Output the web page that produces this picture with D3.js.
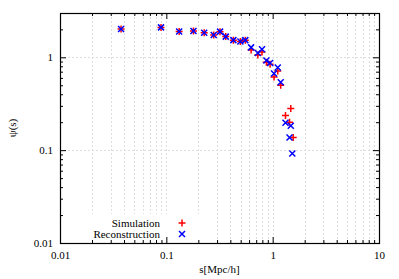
<!DOCTYPE html>
<html>
<head>
<meta charset="utf-8">
<script src="https://cdn.jsdelivr.net/npm/d3@7"></script>
<style>
  body { margin: 0; background: #fff; }
  text { font-family: "Liberation Serif", "DejaVu Serif", serif; font-size: 11px; fill: #000; }
</style>
</head>
<body>
<div id="chart"></div>
<script>
// data
var simS   = [0.0375, 0.0891, 0.132, 0.180, 0.227, 0.279, 0.320, 0.362, 0.427, 0.497, 0.553, 0.627, 0.725, 0.794, 0.873, 0.946, 1.03, 1.117, 1.19, 1.32, 1.44, 1.48, 1.56];
var simPsi = [2.02, 2.10, 1.90, 1.92, 1.84, 1.74, 1.89, 1.67, 1.53, 1.48, 1.53, 1.20, 1.06, 1.14, 0.884, 0.841, 0.614, 0.712, 0.500, 0.236, 0.200, 0.281, 0.137];
var recS   = [0.0375, 0.0891, 0.132, 0.180, 0.227, 0.279, 0.320, 0.362, 0.427, 0.497, 0.553, 0.627, 0.725, 0.794, 0.873, 0.946, 1.03, 1.117, 1.19, 1.32, 1.44, 1.48, 1.53];
var recPsi = [2.02, 2.10, 1.90, 1.92, 1.84, 1.74, 1.89, 1.67, 1.53, 1.48, 1.53, 1.28, 1.11, 1.22, 0.922, 0.868, 0.668, 0.775, 0.539, 0.197, 0.137, 0.183, 0.092];

var xMajor = [0.01, 0.1, 1, 10];
var yMajor = [0.01, 0.1, 1];
var xLabels = ["0.01", "0.1", "1", "10"];
var yLabels = ["0.01", "0.1", "1"];
var seriesNames = ["Simulation", "Reconstruction"];

var margin = {top: 13, right: 20, bottom: 36, left: 60},
    width = 399 - margin.left - margin.right,
    height = 279 - margin.top - margin.bottom;

var x = d3.scaleLog().domain([0.01, 10]).range([0, width]);
var y = d3.scaleLog().domain([0.01, 3]).range([height, 0]);

// minor ticks 2..9 within each decade
var xMinor = [], yMinor = [];
[0.01, 0.1, 1].forEach(function(d) { for (var k = 2; k < 10; k++) xMinor.push(d * k); });
[0.01, 0.1, 1].forEach(function(d) { for (var k = 2; k < 10; k++) if (d * k <= 3) yMinor.push(d * k); });

var svg = d3.select("#chart").append("svg")
    .attr("width", 399)
    .attr("height", 279)
  .append("g")
    .attr("transform", "translate(" + margin.left + "," + margin.top + ")");

// grid
var grid = svg.append("g")
    .attr("stroke", "#dedede")
    .attr("stroke-width", 1)
    .attr("stroke-dasharray", "2,2");

grid.selectAll(".vx")
    .data(xMajor.concat(xMinor).filter(function(d) { return d > 0.01 && d < 10; }))
  .enter().append("line")
    .attr("x1", function(d) { return Math.round(x(d)) + 0.5; })
    .attr("x2", function(d) { return Math.round(x(d)) + 0.5; })
    .attr("y1", 0).attr("y2", height);

grid.selectAll(".hy")
    .data([0.1, 1])
  .enter().append("line")
    .attr("y1", function(d) { return Math.round(y(d)) + 0.5; })
    .attr("y2", function(d) { return Math.round(y(d)) + 0.5; })
    .attr("x1", 0).attr("x2", width);

// opaque legend background
svg.append("rect")
    .attr("x", 1).attr("y", 201)
    .attr("width", 144).attr("height", height - 201)
    .attr("fill", "#fff");

function styleAxis(g) {
  g.select(".domain").remove();
  g.selectAll(".tick line").attr("stroke", "#000");
}

// bottom axis (labels + major ticks inside)
svg.append("g")
    .attr("transform", "translate(0," + height + ")")
    .call(d3.axisBottom(x).tickValues(xMajor).tickSize(-6).tickPadding(8)
      .tickFormat(function(d, i) { return xLabels[i]; }))
    .call(styleAxis);
svg.append("g")
    .attr("transform", "translate(0," + height + ")")
    .call(d3.axisBottom(x).tickValues(xMinor).tickSize(-3).tickFormat(""))
    .call(styleAxis);
// top axis mirror
svg.append("g")
    .call(d3.axisTop(x).tickValues(xMajor).tickSize(-6).tickFormat(""))
    .call(styleAxis);
svg.append("g")
    .call(d3.axisTop(x).tickValues(xMinor).tickSize(-3).tickFormat(""))
    .call(styleAxis);

// left axis
svg.append("g")
    .call(d3.axisLeft(y).tickValues(yMajor).tickSize(-6).tickPadding(7)
      .tickFormat(function(d, i) { return yLabels[i]; }))
    .call(styleAxis);
svg.append("g")
    .call(d3.axisLeft(y).tickValues(yMinor).tickSize(-3).tickFormat(""))
    .call(styleAxis);
// right axis mirror
svg.append("g")
    .attr("transform", "translate(" + width + ",0)")
    .call(d3.axisRight(y).tickValues(yMajor).tickSize(-6).tickFormat(""))
    .call(styleAxis);
svg.append("g")
    .attr("transform", "translate(" + width + ",0)")
    .call(d3.axisRight(y).tickValues(yMinor).tickSize(-3).tickFormat(""))
    .call(styleAxis);

svg.selectAll(".tick text")
    .style("font-family", "'Liberation Serif', serif")
    .style("font-size", "11px");

// frame
svg.append("rect")
    .attr("x", 0.5).attr("y", 0.5)
    .attr("width", width).attr("height", height)
    .attr("fill", "none")
    .attr("stroke", "#000")
    .attr("stroke-width", 1.2);

var plusPath = "M-3.5,0H3.5M0,-3.5V3.5";
var crossPath = "M-3,-3L3,3M-3,3L3,-3";

// simulation points (red +)
svg.append("g").selectAll("path")
    .data(simS)
  .enter().append("path")
    .attr("transform", function(d, i) { return "translate(" + x(d) + "," + y(simPsi[i]) + ")"; })
    .attr("d", plusPath)
    .attr("stroke", "#ff0000")
    .attr("stroke-width", 1.5)
    .attr("fill", "none");

// reconstruction points (blue x)
svg.append("g").selectAll("path")
    .data(recS)
  .enter().append("path")
    .attr("transform", function(d, i) { return "translate(" + x(d) + "," + y(recPsi[i]) + ")"; })
    .attr("d", crossPath)
    .attr("stroke", "#0000ff")
    .attr("stroke-width", 1.5)
    .attr("fill", "none");

// legend
var legend = svg.append("g");
[0, 1].forEach(function(i) {
  var ly = 210 + i * 11;
  legend.append("text")
      .attr("x", 100).attr("y", ly + 4)
      .attr("text-anchor", "end")
      .text(seriesNames[i]);
  legend.append("path")
      .attr("transform", "translate(122," + ly + ")")
      .attr("d", i === 0 ? plusPath : crossPath)
      .attr("stroke", i === 0 ? "#ff0000" : "#0000ff")
      .attr("stroke-width", 1.5)
      .attr("fill", "none");
});

// axis titles
svg.append("text")
    .attr("x", width / 2)
    .attr("y", height + 30)
    .attr("text-anchor", "middle")
    .text("s[Mpc/h]");

svg.append("text")
    .attr("transform", "translate(" + (-margin.left + 16) + "," + (height / 2) + ") rotate(-90)")
    .attr("text-anchor", "middle")
    .text("ψ(s)");
</script>
</body>
</html>
